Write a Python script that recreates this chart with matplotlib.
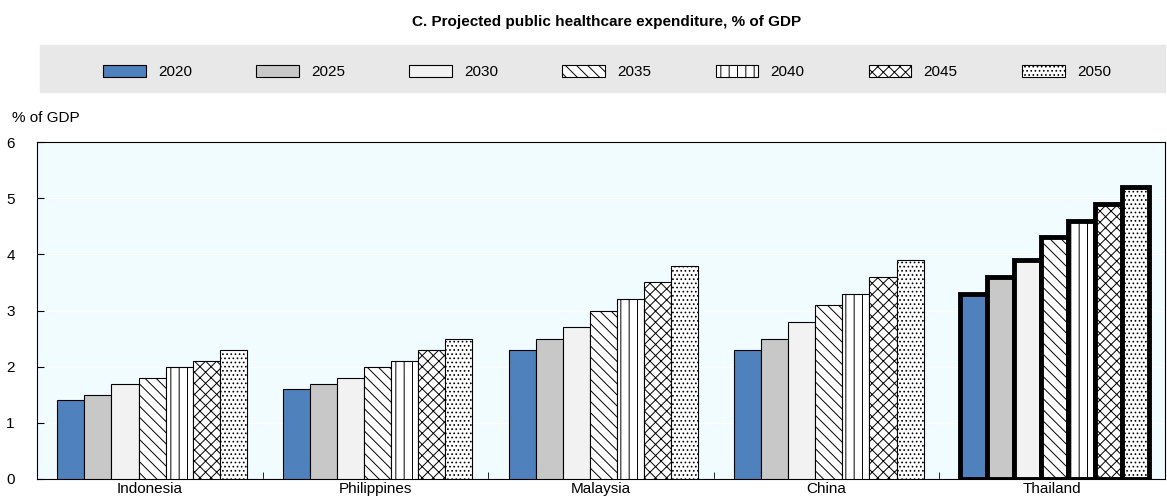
import numpy as np
import matplotlib.pyplot as plt
from matplotlib.patches import Rectangle

countries = ["Indonesia", "Philippines", "Malaysia", "China", "Thailand"]
years = ["2020", "2025", "2030", "2035", "2040", "2045", "2050"]
indonesia = [1.4, 1.5, 1.7, 1.8, 2.0, 2.1, 2.3]
philippines = [1.6, 1.7, 1.8, 2.0, 2.1, 2.3, 2.5]
malaysia = [2.3, 2.5, 2.7, 3.0, 3.2, 3.5, 3.8]
china = [2.3, 2.5, 2.8, 3.1, 3.3, 3.6, 3.9]
thailand = [3.3, 3.6, 3.9, 4.3, 4.6, 4.9, 5.2]

values = np.array([indonesia, philippines, malaysia, china, thailand])
colors = ["#4f81bd", "#c8c8c8", "#f2f2f2", "white", "white", "white", "white"]
hatches = [None, None, None, "\\\\\\", "||", "xxx", "...."]

plt.rcParams["font.family"] = ["Liberation Sans", "DejaVu Sans"]
plt.rcParams["hatch.color"] = "#8a8a8a"
plt.rcParams["hatch.linewidth"] = 0.7

fig = plt.figure(figsize=(11.67, 5.03), dpi=100)
ax = fig.add_axes([37 / 1167, 24 / 503, 1128 / 1167, 337 / 503])
ax.set_facecolor("#f0fcff")

w = 0.12
x = np.arange(len(countries))
for i, yr in enumerate(years):
    offs = (i - 3) * w + 0.01
    for j in range(len(countries)):
        thick = countries[j] == "Thailand"
        ax.bar(x[j] + offs, values[j, i], w, color=colors[i], hatch=hatches[i],
               edgecolor="black", linewidth=3.5 if thick else 0.8, zorder=3,
               label=yr if j == 0 else None)

ax.set_xlim(-0.5, 4.5)
ax.set_ylim(0, 6)
ax.set_yticks(range(7))
ax.yaxis.grid(True, color="white", linewidth=1, zorder=0)
ax.set_xticks(x)
ax.set_xticklabels(countries, fontsize=11)
ax.tick_params(axis="x", length=0, pad=2)
ax.set_xticks(np.arange(0.5, 4.5, 1), minor=True)
ax.tick_params(axis="x", which="minor", direction="in", length=5)
ax.tick_params(axis="y", direction="in", length=5, labelsize=11, pad=16)
for s in ["top", "right", "left", "bottom"]:
    ax.spines[s].set_linewidth(0.8)

fig.text(12 / 1167, 1 - 118 / 503, "% of GDP", fontsize=11, va="center")
fig.text(0.52, 1 - 22 / 503, "C. Projected public healthcare expenditure, % of GDP",
         ha="center", va="center", fontsize=11, fontweight="bold")

fig.patches.append(Rectangle((40 / 1167, 1 - 92 / 503), 1125 / 1167, 47 / 503,
                             transform=fig.transFigure, color="#e8e8e8", zorder=0))
handles, labels = ax.get_legend_handles_labels()
leg = fig.legend(handles, labels, loc="center", ncol=7, bbox_to_anchor=(0.52, 1 - 72 / 503),
                 frameon=False, fontsize=11, handlelength=2.8, handleheight=0.9,
                 columnspacing=4.2, handletextpad=0.8)
for h in leg.legend_handles:
    h.set_linewidth(0.8)

fig.savefig("out.png", dpi=100)
